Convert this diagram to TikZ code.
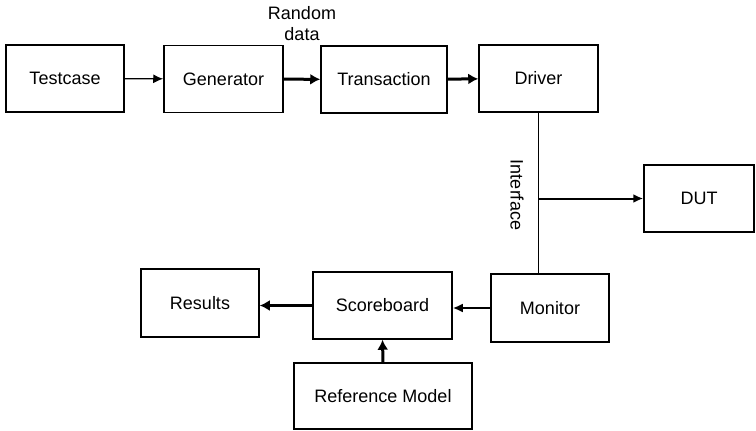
\documentclass[tikz,border=0pt]{standalone}
\usepackage{fontspec}
\setmainfont{Liberation Sans}
\usepackage{tikz}
\usetikzlibrary{arrows.meta}
\usetikzlibrary{positioning}
\tikzset{block/.style = {draw, line width=1.5pt, minimum height=67pt,
                         inner sep=0pt, font=\fontsize{18}{21}\selectfont}}
\tikzset{thinflow/.style = {line width=1.3pt, -{Latex[length=10pt,width=9pt]}}}
\tikzset{thickflow/.style = {line width=3pt, -{Latex[length=10pt,width=11pt]}}}
\tikzset{label/.style = {font=\fontsize{18}{21}\selectfont, align=center, inner sep=0pt}}

\begin{document}
\begin{tikzpicture}[x=1pt, y=-1pt]
    \useasboundingbox (0, 0) rectangle (756, 431);

    % top row
    \node [block, minimum width=118pt] (testcase) at (65, 78.5) {Testcase};
    \node [block, minimum width=119pt] (generator) at (223.5, 79) {Generator};
    \node [block, minimum width=126pt] (transaction) at (384, 79.5) {Transaction};
    \node [block, minimum width=119pt] (driver) at (538.5, 78.5) {Driver};
    \node [label] (rnd) at (302, 24) {Random\\data};

    % dut and bottom row
    \node [block, minimum width=110pt] (dut) at (699, 198.5) {DUT};
    \node [block, minimum width=118pt, minimum height=68pt] (monitor) at (550, 308) {Monitor};
    \node [block, minimum width=139pt] (scoreboard) at (382.5, 305.5) {Scoreboard};
    \node [block, minimum width=118pt, minimum height=68pt] (results) at (200, 303) {Results};
    \node [block, minimum width=178pt, minimum height=66pt] (refmodel) at (383, 396) {Reference Model};

    \draw [thinflow] (testcase) -- (generator);
    \draw [thickflow] (generator) -- (transaction);
    \draw [thickflow] (transaction) -- (driver);

    % interface bus
    \draw [line width=1.5pt] (driver.south) -- (driver.south |- monitor.north);
    \coordinate (tap) at (driver.south |- dut.west);
    \draw [thinflow, line width=2pt] (tap) -- (dut.west);
    \node [label, rotate=-90] (iface) at (517, 195) {Interface};

    \draw [thinflow, line width=2pt] (monitor.west) -- (scoreboard.east |- monitor.west);
    \draw [thickflow] (scoreboard.west) -- (scoreboard.west -| results.east);
    \draw [thickflow] (refmodel.north) -- (scoreboard.south);
\end{tikzpicture}
\end{document}
